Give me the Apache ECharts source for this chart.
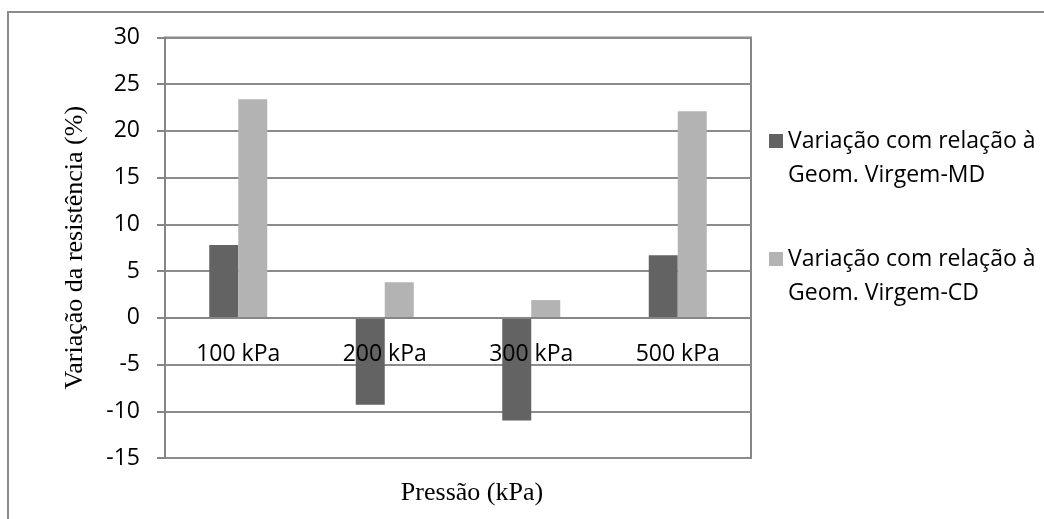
<!DOCTYPE html>
<html>
<head>
<meta charset="utf-8">
<script src="https://cdn.jsdelivr.net/npm/echarts@6/dist/echarts.min.js"></script>
<style>
html,body{margin:0;padding:0;background:#fff;}
#chart{width:1044px;height:519px;}
</style>
</head>
<body>
<div id="chart"></div>
<script>
const categories = ['100 kPa', '200 kPa', '300 kPa', '500 kPa'];
const seriesNames = ['Variação com relação à Geom. Virgem-MD', 'Variação com relação à Geom. Virgem-CD'];
const valuesMD = [7.8, -9.3, -11.0, 6.7];
const valuesCD = [23.4, 3.8, 1.9, 22.1];
const yTicks = { min: -15, max: 30, interval: 5 };
const yTitle = 'Variação da resistência (%)';
const xTitle = 'Pressão (kPa)';

const sansFont = '"Open Sans", sans-serif';
const serifFont = '"Liberation Serif", "DejaVu Serif", serif';
const axisGray = '#868686';

const gridTop = 37.5, gridBottom = 61, chartH = 519;
const plotH = chartH - gridTop - gridBottom;
// distance of the zero line above the plot bottom (used to move the category axis onto y = 0)
const zeroOffset = plotH * (0 - yTicks.min) / (yTicks.max - yTicks.min);

const chart = echarts.init(document.getElementById('chart'), null, { renderer: 'canvas' });
chart.setOption({
  backgroundColor: '#ffffff',
  animation: false,
  grid: {
    left: 165, top: gridTop, right: 293, bottom: gridBottom,
    show: true, borderColor: axisGray, borderWidth: 2, backgroundColor: 'transparent'
  },
  legend: {
    orient: 'vertical',
    left: 769,
    top: 90,
    padding: 0,
    itemWidth: 14,
    itemHeight: 14,
    itemGap: 16,
    icon: 'rect',
    formatter: function (name) { return ' \n' + name.replace(' Geom.', '\nGeom.'); },
    textStyle: {
      fontFamily: sansFont, fontSize: 23, lineHeight: 34, color: '#000'
    },
    data: seriesNames
  },
  xAxis: {
    type: 'category',
    data: categories,
    z: 10,
    offset: -zeroOffset,
    axisLine: { onZero: false, lineStyle: { color: axisGray, width: 2 } },
    axisTick: { show: false },
    axisLabel: { fontFamily: sansFont, fontSize: 23, color: '#000', margin: 25 },
    splitLine: { show: false }
  },
  yAxis: {
    type: 'value',
    min: yTicks.min, max: yTicks.max, interval: yTicks.interval,
    name: yTitle,
    nameLocation: 'middle',
    nameGap: 77,
    nameRotate: 90,
    nameTextStyle: { fontFamily: serifFont, fontSize: 26, color: '#000' },
    axisLine: { show: true, lineStyle: { color: axisGray, width: 2 } },
    axisTick: { show: true, length: 8, lineStyle: { color: axisGray, width: 2 } },
    axisLabel: { fontFamily: sansFont, fontSize: 23, color: '#000', margin: 25 },
    splitLine: { show: true, lineStyle: { color: '#8c8c8c', width: 2 } }
  },
  graphic: [
    {
      type: 'rect', silent: true, z: -1,
      shape: { x: 8, y: 12, width: 1100, height: 600 },
      style: { fill: 'none', stroke: '#8c8c8c', lineWidth: 2 }
    },
    {
      type: 'text', silent: true,
      x: 472, y: 493,
      style: {
        text: xTitle, fontFamily: serifFont, fontSize: 26, fill: '#000',
        align: 'center', verticalAlign: 'middle'
      }
    }
  ],
  series: [
    {
      name: seriesNames[0], type: 'bar', data: valuesMD,
      barWidth: 29, barGap: '0%',
      itemStyle: { color: '#636363' }
    },
    {
      name: seriesNames[1], type: 'bar', data: valuesCD,
      barWidth: 29, barGap: '0%',
      itemStyle: { color: '#b3b3b3' }
    }
  ]
});
</script>
</body>
</html>
